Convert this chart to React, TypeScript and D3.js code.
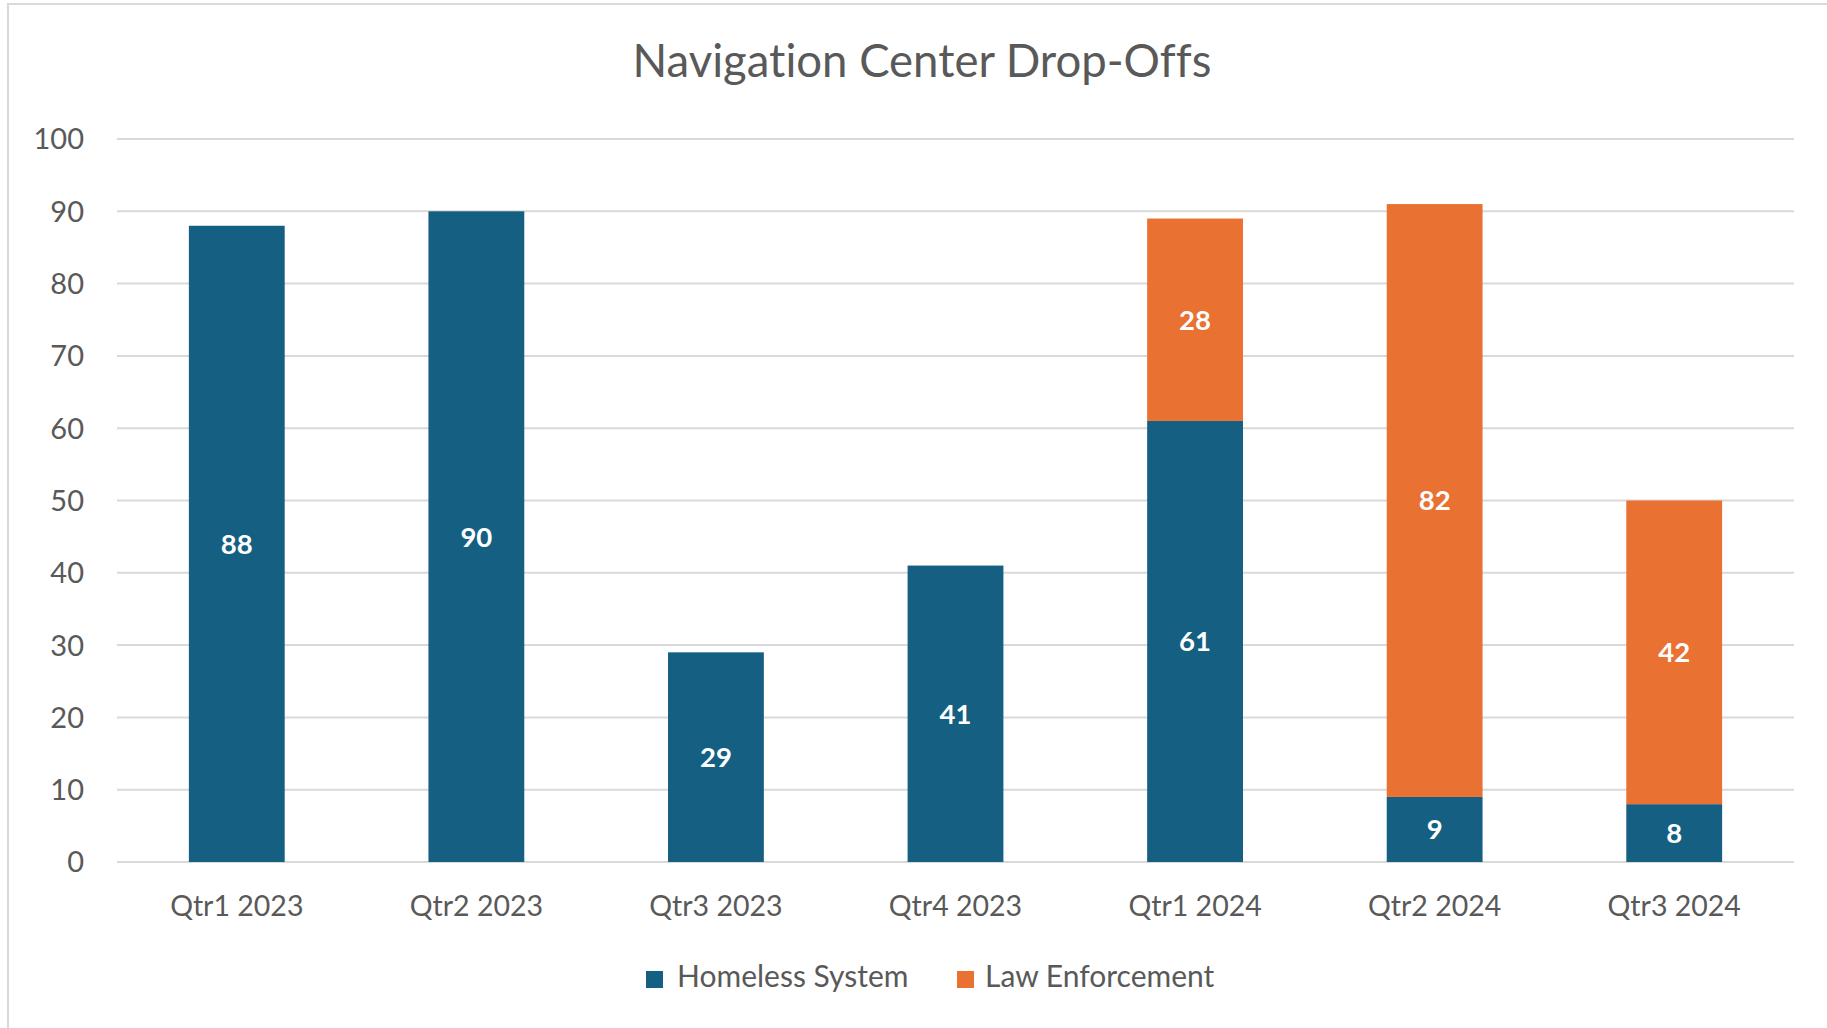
import React from "react";
import * as d3 from "d3";

// values
const quarters = ["Qtr1 2023", "Qtr2 2023", "Qtr3 2023", "Qtr4 2023", "Qtr1 2024", "Qtr2 2024", "Qtr3 2024"];
const homelessSystem = [88, 90, 29, 41, 61, 9, 8];
const lawEnforcement = [0, 0, 0, 0, 28, 82, 42];
const yTicks = [0, 10, 20, 30, 40, 50, 60, 70, 80, 90, 100];

const seriesNames = ["Homeless System", "Law Enforcement"];
const seriesColors = ["#156082", "#E97132"];

const W = 1827;
const H = 1028;
const margin = { top: 139, right: 33, bottom: 166, left: 117 };
const font = "Lato, 'Noto Sans', sans-serif";
const textColor = "#595959";
const noLig = { fontVariantLigatures: "none" } as React.CSSProperties;

export default function App() {
  const rows = quarters.map((q, i) => ({
    quarter: q,
    "Homeless System": homelessSystem[i],
    "Law Enforcement": lawEnforcement[i],
  }));
  const stacked = d3.stack<any>().keys(seriesNames)(rows);

  const x = d3
    .scaleBand()
    .domain(quarters)
    .range([margin.left, W - margin.right])
    .paddingInner(0.6)
    .paddingOuter(0.3);

  const y = d3
    .scaleLinear()
    .domain([0, 100])
    .range([H - margin.bottom, margin.top]);

  const centerX = 922;

  return (
    <div style={{ position: "fixed", left: 0, top: 0 }}>
      <svg width={W} height={H} style={{ display: "block", background: "#fff" }}>
        {/* chart area border, cut off on the right and bottom */}
        <rect x={8} y={4} width={W + 20} height={H + 20} fill="#fff" stroke="#D9D9D9" strokeWidth={2} />

        <text
          x={centerX}
          y={77}
          textAnchor="middle"
          fontFamily={font}
          fontSize={45.5}
          fill={textColor}
          style={noLig}
        >
          Navigation Center Drop-Offs
        </text>

        {/* gridlines and y labels */}
        {yTicks.map((t) => (
          <g key={t}>
            <line
              x1={margin.left}
              x2={W - margin.right}
              y1={y(t)}
              y2={y(t)}
              stroke="#D9D9D9"
              strokeWidth={2}
            />
            <text
              x={84}
              y={y(t)}
              dy="0.36em"
              textAnchor="end"
              fontFamily={font}
              fontSize={29}
              fill={textColor}
            >
              {t}
            </text>
          </g>
        ))}

        {/* stacked bars */}
        {stacked.map((layer, si) => (
          <g key={layer.key} fill={seriesColors[si]}>
            {layer.map((d, i) => {
              const v = d[1] - d[0];
              if (v <= 0) return null;
              return (
                <rect
                  key={i}
                  x={x(quarters[i])}
                  y={y(d[1])}
                  width={x.bandwidth()}
                  height={y(d[0]) - y(d[1])}
                />
              );
            })}
          </g>
        ))}

        {/* data labels */}
        {stacked.map((layer) => (
          <g key={layer.key + "-labels"}>
            {layer.map((d, i) => {
              const v = d[1] - d[0];
              if (v <= 0) return null;
              return (
                <text
                  key={i}
                  x={(x(quarters[i]) as number) + x.bandwidth() / 2}
                  y={(y(d[0]) + y(d[1])) / 2}
                  dy="0.36em"
                  textAnchor="middle"
                  fontFamily={font}
                  fontWeight="bold"
                  fontSize={27.5}
                  fill="#ffffff"
                >
                  {v}
                </text>
              );
            })}
          </g>
        ))}

        {/* x axis labels */}
        {quarters.map((q) => (
          <text
            key={q}
            x={(x(q) as number) + x.bandwidth() / 2}
            y={916}
            textAnchor="middle"
            fontFamily={font}
            fontSize={28.5}
            fill={textColor}
          >
            {q}
          </text>
        ))}

        {/* legend */}
        <g>
          <rect x={646} y={971} width={17} height={17} fill={seriesColors[0]} />
          <text x={677} y={987} fontFamily={font} fontSize={30} fill={textColor}>
            {seriesNames[0]}
          </text>
          <rect x={957} y={971} width={17} height={17} fill={seriesColors[1]} />
          <text x={985} y={987} fontFamily={font} fontSize={30} fill={textColor}>
            {seriesNames[1]}
          </text>
        </g>
      </svg>
    </div>
  );
}
